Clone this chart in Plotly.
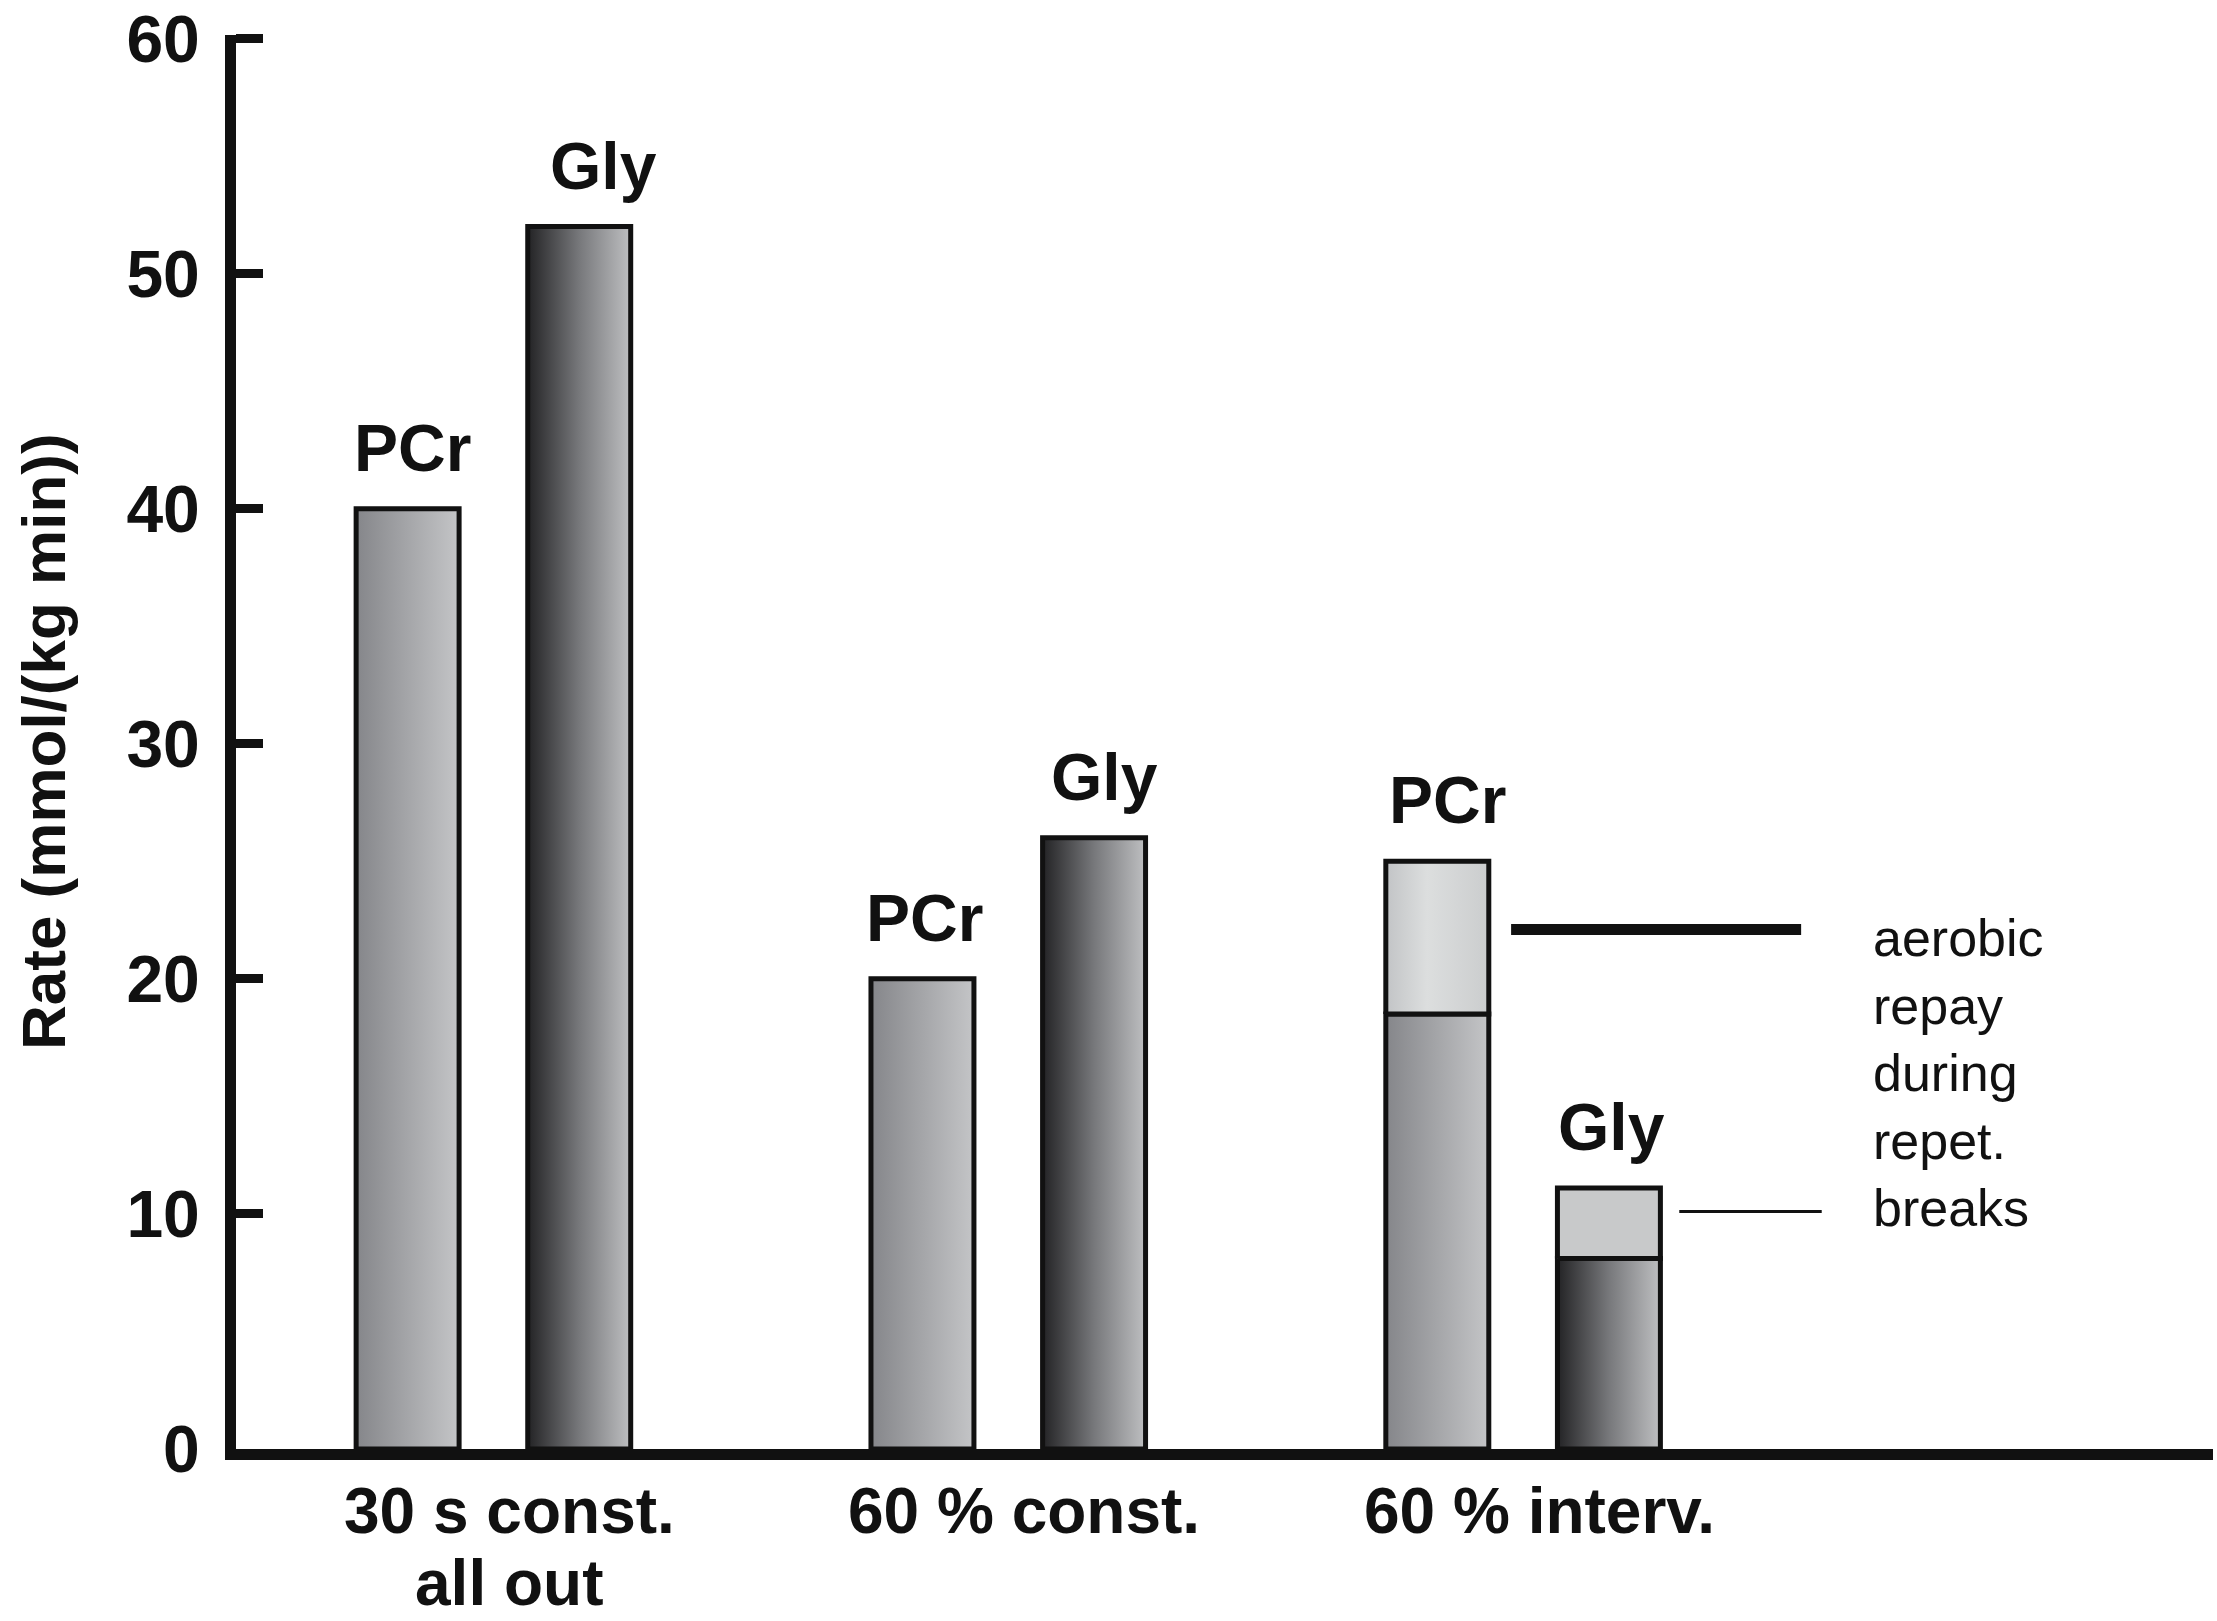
import plotly.graph_objects as go

# ---- data ----
categories = ["30 s const.<br>all out", "60 % const.", "60 % interv."]
group_x = [1.5, 4.5, 7.5]
bar_labels = ["PCr", "Gly", "PCr", "Gly", "PCr", "Gly"]
bar_x = [1, 2, 4, 5, 7, 8]
anaerobic_rate = [40.0, 52.0, 20.0, 26.0, 18.5, 8.1]
aerobic_repay = [0.0, 0.0, 0.0, 0.0, 6.5, 3.0]
y_ticks = [0, 10, 20, 30, 40, 50, 60]
note_lines = ["aerobic", "repay", "during", "repet.", "breaks"]
leader_y = [22.1, 10.1]
leader_x0 = [7.43, 8.41]
leader_x1 = [9.12, 9.24]

FONT = "Liberation Sans, Arial, sans-serif"
BAR_W = 0.6
LABEL_DX = [5, 24, 2, 10, 10, 3]   # small horizontal nudges of the bar labels (px)

grad = {
    "PCr": [[0, "#85868a"], [1, "#c4c5c7"]],
    "Gly": [[0, "#232325"], [0.5, "#77787b"], [1, "#bebfc1"]],
}
grad_top = {
    "PCr": [[0, "#c2c4c6"], [0.4, "#dcdede"], [1, "#cbcdce"]],
    "Gly": [[0, "#c8c9ca"], [1, "#c8c9ca"]],
}

fig = go.Figure()


def add_rect(x0, x1, y0, y1, scale):
    fig.add_trace(go.Scatter(
        x=[x0, x1, x1, x0, x0],
        y=[y0, y0, y1, y1, y0],
        mode="lines",
        fill="toself",
        fillgradient=dict(type="horizontal", colorscale=scale),
        line=dict(color="#111111", width=5),
        hoverinfo="skip",
        showlegend=False,
    ))


for lab, xc, v, a, dx in zip(bar_labels, bar_x, anaerobic_rate, aerobic_repay, LABEL_DX):
    x0, x1 = xc - BAR_W / 2, xc + BAR_W / 2
    add_rect(x0, x1, 0, v, grad[lab])
    if a > 0:
        add_rect(x0, x1, v, v + a, grad_top[lab])
    fig.add_annotation(
        x=xc, y=v + a, xref="x", yref="y", text=lab, showarrow=False,
        yanchor="bottom", xanchor="center", yshift=22, xshift=dx,
        font=dict(family=FONT, size=66, color="#111111", weight="bold"),
    )

# leader lines to the note
for y, xa, xb, w in zip(leader_y, leader_x0, leader_x1, [11, 3]):
    fig.add_trace(go.Scatter(
        x=[xa, xb], y=[y, y], mode="lines",
        line=dict(color="#111111", width=w),
        hoverinfo="skip", showlegend=False,
    ))

fig.add_annotation(
    x=9.53, y=16.0, xref="x", yref="y", text="<br>".join(note_lines),
    showarrow=False, xanchor="left", yanchor="middle", align="left",
    font=dict(family=FONT, size=52, color="#111111"),
)

# category labels under the axis (one annotation per text line)
for cx, cat in zip(group_x, categories):
    for k, line in enumerate(cat.split("<br>")):
        fig.add_annotation(
            x=cx, y=0, xref="x", yref="paper", text=line, showarrow=False,
            xanchor="center", yanchor="middle", yshift=-62 - 72 * k, xshift=16,
            font=dict(family=FONT, size=64, color="#111111", weight="bold"),
        )

# y axis title
fig.add_annotation(
    x=0, y=0.5, xref="paper", yref="paper", text="Rate (mmol/(kg min))",
    textangle=-90, showarrow=False, xanchor="center", yanchor="middle",
    xshift=-193,
    font=dict(family=FONT, size=62, color="#111111", weight="bold"),
)

fig.update_xaxes(
    range=[0, 11.52], showline=True, linewidth=11, linecolor="#111111",
    showgrid=False, zeroline=False, showticklabels=False, ticks="",
    automargin=False,
)
fig.update_yaxes(
    range=[0, 60.15], showline=True, linewidth=11, linecolor="#111111",
    showgrid=False, zeroline=False, tickvals=y_ticks,
    ticks="inside", ticklen=27, tickwidth=9, tickcolor="#111111",
    tickfont=dict(family=FONT, size=66, color="#111111", weight="bold"),
    ticklabelstandoff=12, automargin=False,
)
fig.update_layout(
    width=2217, height=1621,
    margin=dict(l=236, r=4, t=35, b=172, autoexpand=False),
    plot_bgcolor="white", paper_bgcolor="white",
    showlegend=False,
)

# remove the default page margin so the figure fills the window exactly
fig.write_html(
    "out.html",
    config={"displayModeBar": False},
    post_script="document.body.style.margin='0px';",
)
